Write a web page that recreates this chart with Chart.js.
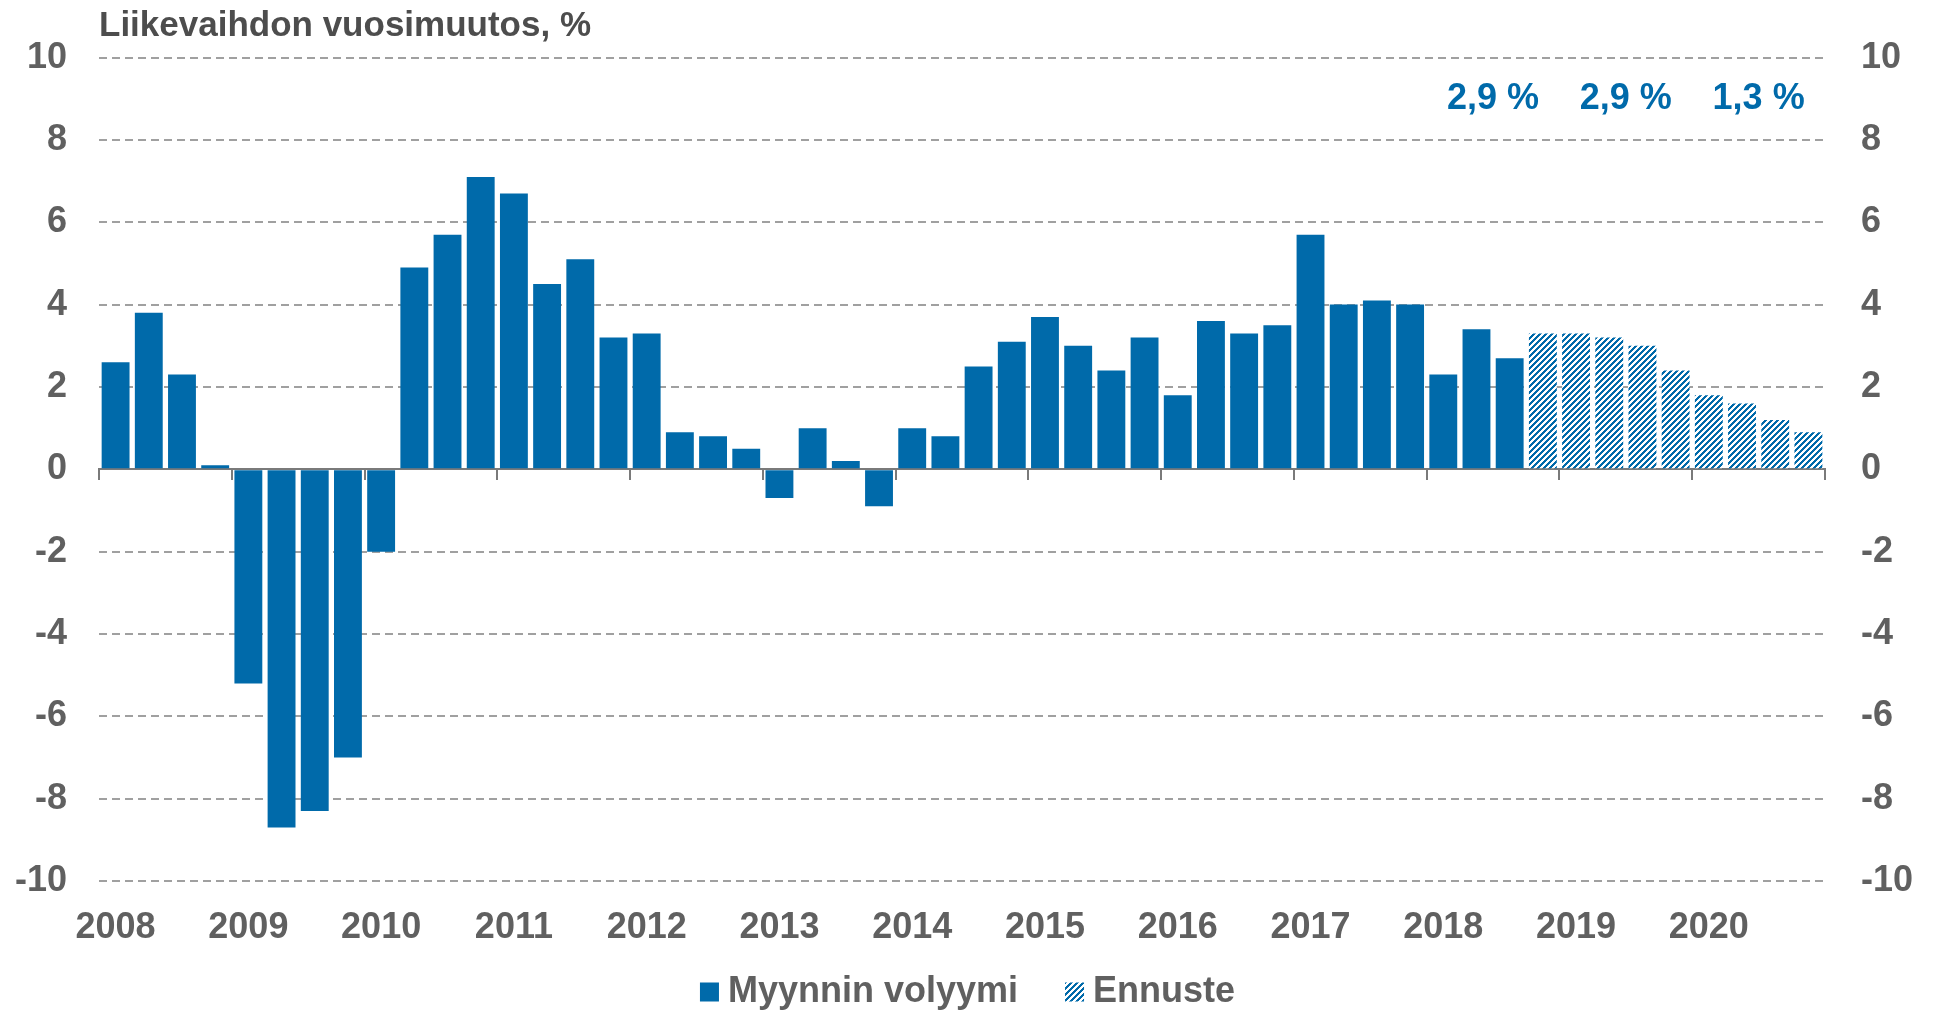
<!DOCTYPE html>
<html lang="fi">

<head>
    <meta charset="UTF-8">
    <title>Liikevaihdon vuosimuutos</title>
    <script src="https://cdn.jsdelivr.net/npm/chart.js"></script>
    <style>
        body {
            margin: 0;
            padding: 0;
            background-color: #ffffff;
        }

        #chartBox {
            width: 1935px;
            height: 1011px;
        }
    </style>
</head>

<body>
    <div id="chartBox">
        <canvas id="salesChart" width="1935" height="1011"></canvas>
    </div>

    <script>
        // Data
        var years = ['2008', '2009', '2010', '2011', '2012', '2013', '2014', '2015', '2016', '2017', '2018', '2019', '2020'];
        var quarters = ['Q1', 'Q2', 'Q3', 'Q4'];

        // Myynnin volyymi, 2008 Q1 - 2018 Q3
        var salesVolume = [
            2.6, 3.8, 2.3, 0.1,
            -5.2, -8.7, -8.3, -7.0,
            -2.0, 4.9, 5.7, 7.1,
            6.7, 4.5, 5.1, 3.2,
            3.3, 0.9, 0.8, 0.5,
            -0.7, 1.0, 0.2, -0.9,
            1.0, 0.8, 2.5, 3.1,
            3.7, 3.0, 2.4, 3.2,
            1.8, 3.6, 3.3, 3.5,
            5.7, 4.0, 4.1, 4.0,
            2.3, 3.4, 2.7
        ];

        // Ennuste, 2018 Q4 - 2020 Q4
        var forecast = [3.3, 3.3, 3.2, 3.0, 2.4, 1.8, 1.6, 1.2, 0.9];

        // annual forecasts written above the bars
        var annualYears = ['2018', '2019', '2020'];
        var annualGrowth = ['2,9 %', '2,9 %', '1,3 %'];
        var annualLabelLevel = 9;

        var yMin = -10;
        var yMax = 10;
        var yStep = 2;

        var BLUE = '#006AAA';
        var GREY_TEXT = '#606060';
        var FONT = "'Liberation Sans', Arial, Helvetica, sans-serif";

        Chart.defaults.font.family = FONT;
        Chart.defaults.font.weight = 'bold';

        var categories = [];
        years.forEach(function (y) {
            quarters.forEach(function (q) {
                categories.push(y + ' ' + q);
            });
        });

        var salesData = categories.map(function (c, i) {
            return i < salesVolume.length ? salesVolume[i] : null;
        });
        var forecastData = categories.map(function (c, i) {
            return i >= salesVolume.length ? forecast[i - salesVolume.length] : null;
        });

        // diagonal hatch for the forecast bars
        function makeHatch() {
            var n = 6;
            var c = document.createElement('canvas');
            c.width = n;
            c.height = n;
            var g = c.getContext('2d');
            g.fillStyle = '#ffffff';
            g.fillRect(0, 0, n, n);
            g.fillStyle = BLUE;
            for (var x = 0; x < n; x++) {
                for (var y = 0; y < n; y++) {
                    if ((x + y) % n < 3) g.fillRect(x, y, 1, 1);
                }
            }
            return g.createPattern(c, 'repeat');
        }
        var hatch = makeHatch();

        // yearly growth figures above the forecast years
        var annualLabels = {
            id: 'annualLabels',
            afterDatasetsDraw: function (chart) {
                var ctx = chart.ctx;
                var x = chart.scales.x;
                var y = chart.scales.y;
                ctx.save();
                ctx.font = 'bold 36px ' + FONT;
                ctx.fillStyle = BLUE;
                ctx.textAlign = 'center';
                ctx.textBaseline = 'middle';
                annualYears.forEach(function (yr, i) {
                    var first = categories.indexOf(yr + ' Q1');
                    var cx = (x.getPixelForTick(first) + x.getPixelForTick(first + 3)) / 2;
                    ctx.fillText(annualGrowth[i], cx, y.getPixelForValue(annualLabelLevel));
                });
                ctx.restore();
            }
        };

        // legend drawn under the year labels
        var bottomLegend = {
            id: 'bottomLegend',
            afterDraw: function (chart) {
                var ctx = chart.ctx;
                var items = chart.data.datasets.map(function (ds) {
                    return { text: ds.label, fill: ds.backgroundColor };
                });
                var box = 19, gap = 9, spacing = 47;
                ctx.save();
                ctx.font = 'bold 36px ' + FONT;
                var total = 0;
                items.forEach(function (it, i) {
                    it.w = ctx.measureText(it.text).width;
                    total += box + gap + it.w + (i > 0 ? spacing : 0);
                });
                var xPos = (chart.width - total) / 2;
                var yMid = chart.height - 19;
                ctx.textAlign = 'left';
                ctx.textBaseline = 'middle';
                items.forEach(function (it) {
                    ctx.fillStyle = it.fill;
                    ctx.fillRect(xPos, yMid - box / 2, box, box);
                    ctx.fillStyle = GREY_TEXT;
                    ctx.fillText(it.text, xPos + box + gap, yMid);
                    xPos += box + gap + it.w + spacing;
                });
                ctx.restore();
            }
        };

        var ctx = document.getElementById('salesChart').getContext('2d');
        var salesChart = new Chart(ctx, {
            type: 'bar',
            data: {
                labels: categories,
                datasets: [{
                    label: 'Myynnin volyymi',
                    data: salesData,
                    backgroundColor: BLUE,
                    borderWidth: 0,
                    grouped: false,
                    barPercentage: 0.84,
                    categoryPercentage: 1.0
                }, {
                    label: 'Ennuste',
                    data: forecastData,
                    backgroundColor: hatch,
                    borderWidth: 0,
                    grouped: false,
                    barPercentage: 0.84,
                    categoryPercentage: 1.0
                }]
            },
            options: {
                responsive: false,
                animation: false,
                layout: {
                    padding: { left: 15, right: 22, top: 0, bottom: 66 }
                },
                plugins: {
                    legend: { display: false },
                    tooltip: { enabled: false },
                    title: {
                        display: true,
                        text: 'Liikevaihdon vuosimuutos, %',
                        align: 'start',
                        fullSize: false,
                        color: '#4d4d4d',
                        font: { size: 35, weight: 'bold' },
                        padding: { top: 5, bottom: 10 }
                    }
                },
                scales: {
                    x: {
                        type: 'category',
                        position: { y: 0 },
                        offset: true,
                        grid: {
                            offset: true,
                            drawOnChartArea: false,
                            drawTicks: true,
                            tickLength: 10,
                            lineWidth: 2,
                            color: function (c) {
                                return (c.index === undefined || c.index % 4 === 0) ? '#7a7a7a' : 'rgba(0,0,0,0)';
                            }
                        },
                        border: { display: true, color: '#7a7a7a', width: 2 },
                        ticks: { display: false, autoSkip: false }
                    },
                    x2: {
                        type: 'category',
                        position: 'bottom',
                        offset: true,
                        grid: { display: false },
                        border: { display: false },
                        afterFit: function (scale) { scale.height = 64; },
                        ticks: {
                            autoSkip: false,
                            maxRotation: 0,
                            minRotation: 0,
                            padding: 17,
                            color: GREY_TEXT,
                            font: { size: 36, weight: 'bold' },
                            callback: function (value, index) {
                                return index % 4 === 0 ? this.getLabelForValue(value).slice(0, 4) : '';
                            }
                        }
                    },
                    y: {
                        position: 'left',
                        min: yMin,
                        max: yMax,
                        afterFit: function (scale) { scale.width = 84; },
                        grid: {
                            color: '#a0a0a0',
                            lineWidth: 2,
                            drawTicks: false
                        },
                        border: { display: false, dash: [8, 5] },
                        ticks: {
                            stepSize: yStep,
                            padding: 32,
                            color: GREY_TEXT,
                            font: { size: 36, weight: 'bold' }
                        }
                    },
                    y2: {
                        position: 'right',
                        min: yMin,
                        max: yMax,
                        afterFit: function (scale) { scale.width = 88; },
                        grid: { display: false, drawTicks: false },
                        border: { display: false },
                        ticks: {
                            stepSize: yStep,
                            padding: 36,
                            color: GREY_TEXT,
                            font: { size: 36, weight: 'bold' }
                        }
                    }
                }
            },
            plugins: [annualLabels, bottomLegend]
        });
    </script>
</body>

</html>
